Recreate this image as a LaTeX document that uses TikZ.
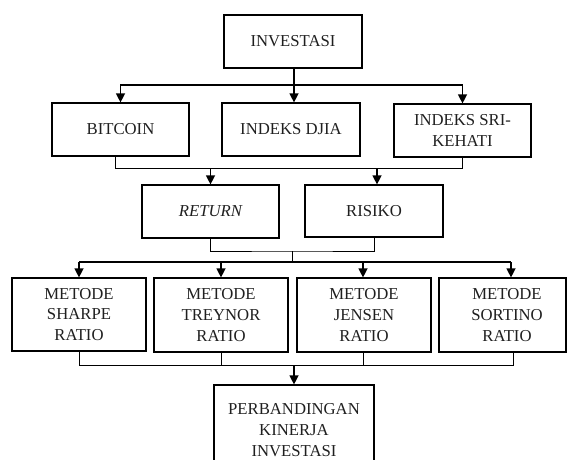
\documentclass[tikz,border=0pt]{standalone}
\usepackage{fontspec}
\setmainfont{Liberation Serif}
\usetikzlibrary{arrows.meta}
\tikzset{
  box/.style={draw, line width=1.2pt, inner sep=0pt, align=center,
    font=\fontsize{16.7}{20.7}\selectfont, text=black!88},
  arr/.style={line width=1.3pt, -{Triangle[width=9pt,length=9pt]}},
  thk/.style={line width=1.3pt},
  thn/.style={line width=0.7pt}
}
\begin{document}
\begin{tikzpicture}[x=1pt,y=-1pt]
\useasboundingbox (0,0) rectangle (567,459);
\clip (0,0) rectangle (567,459);
% boxes
\node[box, minimum width=138pt, minimum height=53pt] (inv) at (293,41.5) {INVESTASI};
\node[box, minimum width=137pt, minimum height=53pt] (btc) at (120.5,129.5) {BITCOIN};
\node[box, minimum width=138pt, minimum height=53pt] (djia) at (291,129.5) {INDEKS DJIA};
\node[box, minimum width=137pt, minimum height=53pt] (sri) at (462.5,130.5) {INDEKS SRI-\\KEHATI};
\node[box, minimum width=137pt, minimum height=53pt] (ret) at (210.5,211.5) {\itshape RETURN};
\node[box, minimum width=138pt, minimum height=52pt] (ris) at (374,211) {RISIKO};
\node[box, minimum width=134pt, minimum height=73pt] (m1) at (79,314.5) {METODE\\SHARPE\\RATIO};
\node[box, minimum width=134pt, minimum height=74pt] (m2) at (221,315) {METODE\\TREYNOR\\RATIO};
\node[box, minimum width=134pt, minimum height=74pt] (m3) at (364,315) {METODE\\JENSEN\\RATIO};
\node[box, minimum width=127pt, minimum height=74pt] (m4) at (502.5,315) {\hspace*{9pt}METODE\\\hspace*{9pt}SORTINO\\\hspace*{9pt}RATIO};
\node[box, minimum width=160pt, minimum height=90pt] (pk) at (294,430) {PERBANDINGAN\\KINERJA\\INVESTASI};
% junction coordinates
\coordinate (j1) at (294,85);
\coordinate (h2) at (462.5,168);
\coordinate (a3) at (377,168);
\coordinate (h3) at (292,251);
\coordinate (h4) at (292,262);
\coordinate (a4) at (511,262);
\coordinate (b4) at (513,352);
\coordinate (h5) at (294,365);
% level 1
\draw[arr] (inv.south -| j1) -- (j1 |- djia.north);
\draw[arr] (j1) -| (btc);
\draw[arr] (j1) -| (sri);
% level 2
\draw[thn] ([xshift=-5.5pt]btc.south) |- (h2) -- (sri.south);
\draw[arr] (ret.north |- h2) -- (ret.north);
\draw[arr] (a3) -- (a3 |- ris.north);
% level 3
\draw[thn] (ret.south) |- (h3) -| (ris.south);
\draw[thn] (h3) -- (h4);
\draw[thk] (m1.north |- h4) -- (a4);
\draw[arr] (m1.north |- h4) -- (m1.north);
\draw[arr] (m2.north |- h4) -- (m2.north);
\draw[arr] ([xshift=-1pt]m3.north |- h4) -- ([xshift=-1pt]m3.north);
\draw[arr] (a4) -- (a4 |- m4.north);
% level 4
\draw[thn] (m1.south) |- (h5);
\draw[thn] (m2.south) -- (m2.south |- h5);
\draw[thn] ([xshift=-1pt]m3.south) -- ([xshift=-1pt]m3.south |- h5);
\draw[thn] (b4) |- (h5);
\draw[arr] (h5) -- (pk.north);
\end{tikzpicture}
\end{document}
